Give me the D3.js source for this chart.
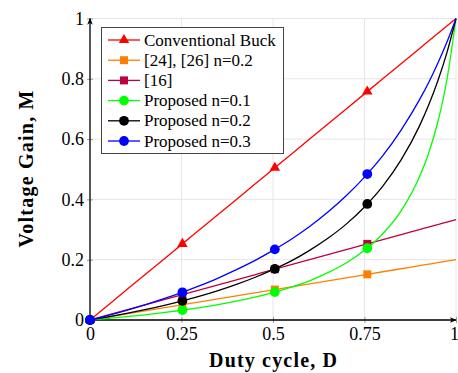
<!DOCTYPE html>
<html><head><meta charset="utf-8">
<script src="https://cdn.jsdelivr.net/npm/d3@7"></script>
<style>
body{margin:0;background:#fff;}
</style></head>
<body><svg id="c" width="458" height="373"></svg>
<script>
// ---- data ----
const xTicks = [0, 0.25, 0.5, 0.75, 1];
const xTickLabels = ["0", "0.25", "0.5", "0.75", "1"];
const yTicks = [0, 0.2, 0.4, 0.6, 0.8, 1];
const yTickLabels = ["0", "0.2", "0.4", "0.6", "0.8", "1"];

const seriesNames = ["Conventional Buck", "[24], [26] n=0.2", "[16]", "Proposed n=0.1", "Proposed n=0.2", "Proposed n=0.3"];
const seriesColors = ["#ff0000", "#ff8000", "#bf0040", "#00ff00", "#000000", "#0000ff"];
const seriesMarks = ["triangle", "square", "square", "circle", "circle", "circle"];

// duty cycle sample points for lines
const dutyLine = [0, 0.05, 0.1, 0.15, 0.2, 0.25, 0.3, 0.35, 0.4, 0.45, 0.5, 0.55, 0.6, 0.65, 0.7, 0.75, 0.8, 0.85, 0.9, 0.925, 0.95, 0.975, 1];
const buckLine = [0, 0.05, 0.1, 0.15, 0.2, 0.25, 0.3, 0.35, 0.4, 0.45, 0.5, 0.55, 0.6, 0.65, 0.7, 0.75, 0.8, 0.85, 0.9, 0.925, 0.95, 0.975, 1];
const ref2426Line = [0, 0.01, 0.02, 0.03, 0.04, 0.05, 0.06, 0.07, 0.08, 0.09, 0.10, 0.11, 0.12, 0.13, 0.14, 0.15, 0.16, 0.17, 0.18, 0.185, 0.19, 0.195, 0.2];
const ref16Line = [0, 0.0167, 0.0333, 0.05, 0.0667, 0.0833, 0.1, 0.1167, 0.1333, 0.15, 0.1667, 0.1833, 0.2, 0.2167, 0.2333, 0.25, 0.2667, 0.2833, 0.3, 0.3083, 0.3167, 0.325, 0.3333];
const propN01Line = [0, 0.0052, 0.011, 0.0173, 0.0244, 0.0323, 0.0411, 0.0511, 0.0625, 0.0756, 0.0909, 0.109, 0.130, 0.157, 0.189, 0.231, 0.286, 0.362, 0.474, 0.552, 0.655, 0.796, 1];
const propN02Line = [0, 0.0104, 0.0217, 0.0341, 0.0476, 0.0625, 0.0789, 0.0972, 0.118, 0.141, 0.167, 0.196, 0.231, 0.271, 0.318, 0.375, 0.444, 0.531, 0.643, 0.712, 0.792, 0.886, 1];
const propN03Line = [0, 0.0155, 0.0323, 0.0503, 0.0698, 0.0909, 0.114, 0.139, 0.167, 0.197, 0.231, 0.268, 0.310, 0.358, 0.412, 0.474, 0.545, 0.630, 0.730, 0.787, 0.851, 0.921, 1];

// marker points
const dutyMarks = [0, 0.2525, 0.505, 0.7576];
const buckMarks = [0, 0.2525, 0.505, 0.7576];
const ref2426Marks = [0, 0.0505, 0.101, 0.1515];
const ref16Marks = [0, 0.0842, 0.1683, 0.2525];
const propN01Marks = [0, 0.0327, 0.0926, 0.238];
const propN02Marks = [0, 0.0633, 0.1695, 0.385];
const propN03Marks = [0, 0.092, 0.2343, 0.484];

const lineValues = [buckLine, ref2426Line, ref16Line, propN01Line, propN02Line, propN03Line];
const markValues = [buckMarks, ref2426Marks, ref16Marks, propN01Marks, propN02Marks, propN03Marks];

const FONT = '"Liberation Serif"';
const FS = 18;

// ---- drawing ----
const svg = d3.select("#c");
const x = d3.scaleLinear().domain([0, 1]).range([90, 456]);
const y = d3.scaleLinear().domain([0, 1]).range([320, 18.5]);

// grid
svg.append("g").selectAll("line").data(xTicks).join("line")
  .attr("x1", d => x(d)).attr("x2", d => x(d)).attr("y1", y(0)).attr("y2", y(1))
  .attr("stroke", "#e6e6e6").attr("stroke-width", 1);
svg.append("g").selectAll("line").data(yTicks).join("line")
  .attr("x1", x(0)).attr("x2", x(1)).attr("y1", d => y(d)).attr("y2", d => y(d))
  .attr("stroke", "#e6e6e6").attr("stroke-width", 1);

// axes via d3 axis
const xAxis = d3.axisBottom(x).tickValues(xTicks).tickFormat((d, i) => xTickLabels[i]).tickSize(3).tickSizeOuter(0);
const gx = svg.append("g").attr("transform", `translate(0,${y(0)})`).call(xAxis);
gx.attr("font-family", null);
gx.select(".domain").remove();
gx.selectAll(".tick line").attr("stroke", "#999").attr("y1", -3).attr("y2", 3);
gx.selectAll(".tick text").style("font-family", FONT).style("font-size", FS + "px").attr("fill", "#000").attr("dy", "0.9em").attr("y", 4);
gx.selectAll(".tick text").filter((d, i) => i === xTicks.length - 1).attr("x", -2);

const yAxis = d3.axisLeft(y).tickValues(yTicks).tickFormat((d, i) => yTickLabels[i]).tickSize(3).tickSizeOuter(0);
const gy = svg.append("g").attr("transform", `translate(${x(0)},0)`).call(yAxis);
gy.attr("font-family", null);
gy.select(".domain").remove();
gy.selectAll(".tick line").attr("stroke", "#999").attr("x1", -3).attr("x2", 3);
gy.selectAll(".tick text").style("font-family", FONT).style("font-size", FS + "px").attr("fill", "#000").attr("x", -6).attr("dy", "0.32em");

const defs = svg.append("defs");
defs.append("marker").attr("id", "arr").attr("viewBox", "0 0 10 10").attr("refX", 9).attr("refY", 5)
  .attr("markerWidth", 7).attr("markerHeight", 7).attr("markerUnits", "userSpaceOnUse").attr("orient", "auto")
  .append("path").attr("d", "M0,1 L10,5 L0,9 L3,5 Z").attr("fill", "#000");

const line = d3.line().x((d, i) => x(dutyLine[i])).y(d => y(d)).curve(d3.curveMonotoneX);

svg.append("line").attr("x1", x(0)).attr("x2", x(1)).attr("y1", y(0)).attr("y2", y(0))
  .attr("stroke", "#000").attr("stroke-width", 1.3).attr("marker-end", "url(#arr)");
svg.append("line").attr("x1", x(0)).attr("x2", x(0)).attr("y1", y(0)).attr("y2", y(1))
  .attr("stroke", "#000").attr("stroke-width", 1.3).attr("marker-end", "url(#arr)");

const sym = {
  triangle: d3.symbol().type(d3.symbolTriangle).size(48),
  square: d3.symbol().type(d3.symbolSquare).size(64),
  circle: d3.symbol().type(d3.symbolCircle).size(75)
};

seriesNames.forEach((name, s) => {
  svg.append("path").datum(lineValues[s]).attr("d", line)
    .attr("fill", "none").attr("stroke", seriesColors[s]).attr("stroke-width", 1.3);
  svg.append("g").selectAll("path").data(markValues[s]).join("path")
    .attr("transform", (d, i) => `translate(${x(dutyMarks[i])},${y(d)})`)
    .attr("d", sym[seriesMarks[s]]).attr("fill", seriesColors[s]);
});

// legend
const lg = svg.append("g");
lg.append("rect").attr("x", 101.5).attr("y", 27.5).attr("width", 182).attr("height", 126)
  .attr("fill", "#fff").attr("stroke", "#444").attr("stroke-width", 1);
seriesNames.forEach((name, s) => {
  const yy = 40 + s * 20.2;
  lg.append("line").attr("x1", 108).attr("x2", 140).attr("y1", yy).attr("y2", yy)
    .attr("stroke", seriesColors[s]).attr("stroke-width", 1.3);
  lg.append("path").attr("transform", `translate(124,${yy})`).attr("d", sym[seriesMarks[s]]).attr("fill", seriesColors[s]);
  lg.append("text").attr("x", 144).attr("y", yy).attr("dy", "0.33em").style("font-family", FONT)
    .style("font-size", "17px").attr("fill", "#000").text(name);
});

// axis titles
svg.append("text").attr("x", 273).attr("y", 367).attr("text-anchor", "middle").style("font-family", FONT)
  .style("font-size", "20px").style("font-weight", "bold")
  .attr("textLength", 128).attr("lengthAdjust", "spacing").text("Duty cycle, D");
svg.append("text").attr("transform", `translate(33,169) rotate(-90)`).attr("text-anchor", "middle").style("font-family", FONT)
  .style("font-size", "20px").style("font-weight", "bold")
  .attr("textLength", 157).attr("lengthAdjust", "spacing").text("Voltage Gain, M");
</script>
</body></html>
